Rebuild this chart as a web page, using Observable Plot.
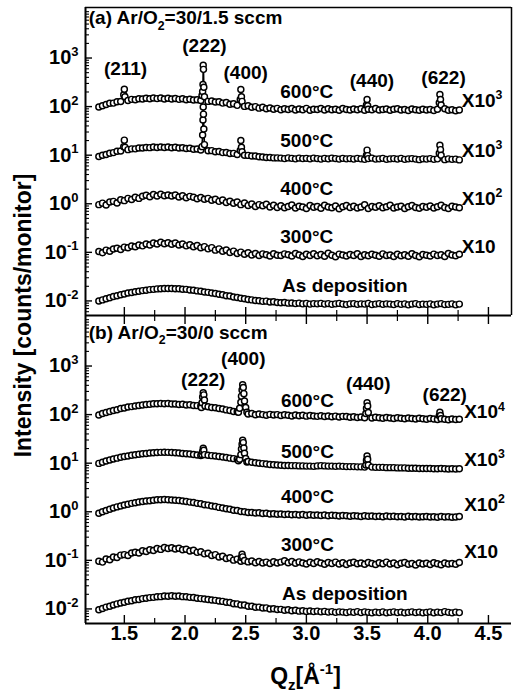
<!DOCTYPE html>
<html><head><meta charset="utf-8">
<script src="https://cdn.jsdelivr.net/npm/d3@7"></script>
<script src="https://cdn.jsdelivr.net/npm/@observablehq/plot@0.6"></script>
<style>body{margin:0;background:#fff}#chart{width:513px;height:699px}</style>
</head><body><div id="chart"></div>
<script>
// Q grid shared by all scans (Å^-1)
const qGrid = [1.29,1.32,1.35,1.38,1.41,1.44,1.47,1.50,1.53,1.56,1.59,1.62,1.65,1.68,1.71,1.74,1.77,1.80,1.83,1.86,
1.89,1.92,1.95,1.98,2.01,2.04,2.07,2.10,2.13,2.16,2.19,2.22,2.25,2.28,2.31,2.34,2.37,2.40,2.43,2.46,
2.49,2.52,2.55,2.58,2.61,2.64,2.67,2.70,2.73,2.76,2.79,2.82,2.85,2.88,2.91,2.94,2.97,3.00,3.03,3.06,
3.09,3.12,3.15,3.18,3.21,3.24,3.27,3.30,3.33,3.36,3.39,3.42,3.45,3.48,3.51,3.54,3.57,3.60,3.63,3.66,
3.69,3.72,3.75,3.78,3.81,3.84,3.87,3.90,3.93,3.96,3.99,4.02,4.05,4.08,4.11,4.14,4.17,4.20,4.23,4.26];

// Relative intensities (100 = the decade line of each offset curve)
const a600 = [98,104,110,117,118,126,127,134,134,141,139,145,143,149,145,150,146,150,144,148,
144,147,141,145,139,142,137,139,134,136,128,131,124,126,118,121,112,115,106,108,
101,104,97,100,93,97,90,94,88,92,86,90,87,91,85,89,86,92,84,88,
87,91,85,90,86,88,84,91,87,85,89,86,90,84,88,86,91,85,87,89,
84,88,90,85,87,83,89,86,84,88,85,87,83,88,86,90,84,86,82,85];
const a500 = [94,100,103,110,113,120,122,128,130,135,135,140,140,144,143,147,144,148,144,147,
142,145,140,142,137,139,133,134,128,129,123,124,118,119,113,114,108,109,103,105,
100,99,96,96,93,92,90,90,88,88,87,85,88,86,84,87,85,86,84,87,
85,83,86,84,87,85,83,86,84,85,83,86,84,82,85,87,83,84,86,82,
84,85,83,86,82,84,85,83,81,84,83,85,82,84,83,81,84,82,83,80];
const a400 = [96,103,94,109,112,104,121,116,129,122,136,129,143,150,139,155,144,157,146,152,
145,151,138,146,133,142,136,127,135,124,129,118,124,112,119,106,113,102,109,96,
104,92,99,88,96,91,98,86,93,84,91,83,88,94,82,89,86,80,92,85,
88,81,93,86,83,90,79,87,92,84,89,82,86,95,80,88,85,91,83,87,
93,82,86,89,80,87,92,84,81,88,85,90,82,87,93,84,80,89,86,83];
const a300 = [104,98,111,105,117,121,114,128,124,135,130,142,136,148,142,156,149,161,151,158,
147,155,141,149,136,143,130,138,124,131,118,125,111,118,105,112,99,106,95,101,
91,98,88,95,86,93,89,84,94,87,86,93,89,84,95,88,82,91,86,94,
85,90,83,96,87,81,92,88,84,90,86,94,82,89,85,91,87,83,93,86,
88,82,91,85,89,83,94,86,81,90,87,84,92,86,89,82,95,88,85,91];
const a0 = [100,105,111,116,123,128,134,139,145,149,154,158,163,166,171,173,177,178,181,180,
181,178,178,174,173,168,166,161,158,152,150,145,142,137,134,128,126,120,118,113,
111,107,105,102,101,98,99,95,96,93,92,93,90,91,88,90,87,89,86,88,
87,89,86,88,85,87,89,86,84,87,88,85,87,86,89,84,86,88,85,87,
86,84,88,85,87,83,86,88,84,86,85,87,83,86,88,84,85,87,83,86];
const b600 = [98,105,110,116,122,126,133,137,143,146,151,154,158,161,163,167,168,170,167,169,
165,166,162,163,158,159,154,153,150,147,145,140,138,133,130,125,122,116,114,111,
107,103,105,99,103,100,97,101,98,100,96,99,97,94,98,95,97,93,96,94,
92,95,91,94,90,93,89,92,91,88,90,87,89,86,90,85,88,86,84,87,
85,83,86,84,82,85,83,81,84,82,80,83,81,79,82,80,78,81,79,80];
const b500 = [99,105,111,116,122,127,132,137,141,145,149,153,156,159,162,164,166,167,168,167,
166,164,162,159,157,154,151,148,144,141,146,143,140,137,134,131,127,124,120,116,
112,108,105,102,100,98,96,94,93,92,91,90,90,89,89,88,88,87,87,86,
88,89,88,87,87,86,87,86,85,85,85,84,84,83,84,83,82,82,82,81,
81,81,80,80,80,79,79,79,78,78,78,78,77,77,78,77,76,77,76,77];
const b400 = [93,100,106,113,119,126,131,138,143,149,153,159,162,167,169,173,176,177,178,176,
175,172,170,166,163,158,155,149,146,140,137,131,128,123,120,115,113,107,106,101,
100,97,97,94,95,92,93,90,91,89,90,88,89,87,88,86,88,85,87,85,
86,84,86,83,85,84,82,84,83,81,83,82,80,83,81,82,80,81,79,82,
80,81,79,80,78,81,79,80,78,79,80,78,79,77,80,78,79,77,78,80];
const b300 = [96,92,107,103,117,114,128,131,126,142,147,141,157,152,166,160,175,168,184,175,
182,171,178,165,170,156,161,146,150,136,140,126,131,117,122,109,113,101,106,96,
99,93,97,89,95,88,92,86,94,88,92,98,89,95,87,93,88,84,91,86,
94,88,83,90,86,92,84,89,82,88,91,85,88,83,90,86,82,89,85,92,
84,88,81,87,90,83,86,80,88,84,87,82,89,85,81,88,84,86,83,90];
const b0 = [96,102,109,114,121,127,133,137,144,148,154,157,163,166,171,173,178,179,184,183,
186,182,184,179,178,173,172,166,163,160,157,152,150,145,143,137,135,128,127,121,
120,114,113,108,109,104,105,100,101,97,98,94,96,92,94,90,92,89,91,88,
90,87,89,86,88,85,87,86,84,87,85,88,84,87,85,83,86,84,87,83,
85,87,84,86,83,85,87,84,86,83,85,87,83,86,84,88,85,83,86,84];

// Bragg peaks: [Q, relative intensity]
const peaksA600 = [
  [[1.495,175],[1.500,228],[1.505,160]],
  [[2.140,170],[2.145,204],[2.148,285],[2.150,707],[2.152,584],[2.155,250],[2.160,160]],
  [[2.455,140],[2.460,225],[2.465,160],[2.470,128]],
  [[3.495,108],[3.500,140],[3.505,104]],
  [[4.095,120],[4.100,177],[4.105,140],[4.110,108]]
];
const peaksA500 = [
  [[1.495,150],[1.500,204],[1.505,145]],
  [[2.140,150],[2.145,260],[2.148,530],[2.150,980],[2.152,700],[2.155,345],[2.160,165]],
  [[2.455,125],[2.460,200],[2.465,145],[2.470,118]],
  [[3.495,100],[3.500,127],[3.505,98]],
  [[4.095,110],[4.100,160],[4.105,130],[4.110,100]]
];
const peaksB600 = [
  [[2.135,140],[2.140,175],[2.145,230],[2.150,283],[2.155,255],[2.160,200],[2.165,150]],
  [[2.440,112],[2.450,135],[2.460,180],[2.465,240],[2.470,320],[2.475,412],[2.480,360],[2.485,270],[2.490,190],[2.500,140],[2.510,112]],
  [[3.490,105],[3.495,135],[3.500,176],[3.505,150],[3.510,110]],
  [[4.095,95],[4.100,112],[4.105,96]]
];
const peaksB500 = [
  [[2.140,150],[2.145,175],[2.150,203],[2.155,185],[2.160,150]],
  [[2.440,112],[2.450,120],[2.460,150],[2.465,195],[2.470,245],[2.475,296],[2.480,265],[2.485,205],[2.490,160],[2.500,125],[2.510,106]],
  [[3.490,92],[3.495,115],[3.500,140],[3.505,120],[3.510,92]]
];
const peaksB300 = [[[2.465,115],[2.470,133],[2.475,118]]];

const seriesPanel = ["a","a","a","a","a","b","b","b","b","b"];
const seriesName = ["600°C","500°C","400°C","300°C","As deposition","600°C","500°C","400°C","300°C","As deposition"];
const seriesFactor = [1,0.1,0.01,0.001,0.0001,1,0.1,0.01,0.001,0.0001];
const seriesRel = [a600,a500,a400,a300,a0,b600,b500,b400,b300,b0];
const seriesPeaks = [peaksA600,peaksA500,[],[],[],peaksB600,peaksB500,[],peaksB300,[]];

// Annotations
const labelText = ["(a) Ar/O_{2}=30/1.5 sccm","(211)","(222)","(400)","(440)","(622)",
  "600°C","X10^{3}","500°C","X10^{3}","400°C","X10^{2}","300°C","X10","As deposition",
  "(b) Ar/O_{2}=30/0 sccm","(222)","(400)","(440)","(622)",
  "600°C","X10^{4}","500°C","X10^{3}","400°C","X10^{2}","300°C","X10","As deposition"];
const labelPanel = ["a","a","a","a","a","a","a","a","a","a","a","a","a","a","a",
  "b","b","b","b","b","b","b","b","b","b","b","b","b","b"];
const labelQ = [1.207,1.51,2.16,2.50,3.54,4.13,2.785,4.28,2.785,4.28,2.785,4.28,2.785,4.28,2.80,
  1.207,2.15,2.48,3.51,4.14,2.79,4.30,2.79,4.30,2.79,4.30,2.79,4.30,2.80];
const labelV = [6600,594,1770,490,337,387,200,130,19.6,12.2,2.01,1.26,0.207,0.129,0.0204,
  4875,528,1426,437,260,195,111,16.7,11.5,2.0,1.36,0.206,0.148,0.0203];
const labelAnchor = ["start","middle","middle","middle","middle","middle","start","start","start","start","start","start","start","start","start",
  "start","middle","middle","middle","middle","start","start","start","start","start","start","start","start","start"];

const xMajor = [1.5,2.0,2.5,3.0,3.5,4.0,4.5];
const xMinor = [1.75,2.25,2.75,3.25,3.75,4.25];
const yMajor = [0.01,0.1,1,10,100,1000];
const xDomain = [1.18, 4.69];
const yDomain = [Math.pow(10,-2.3), Math.pow(10,4.04)];
const yMinor = [];
for (let k = -3; k <= 3; k++) for (let m = 2; m <= 9; m++) { const v = m * Math.pow(10,k); if (v > yDomain[0] && v < yDomain[1]) yMinor.push(v); }

const rows = [];
seriesRel.forEach((rel, s) => {
  const groups = seriesPeaks[s];
  const inPeak = q => groups.some(g => q >= g[0][0] - 1e-9 && q <= g[g.length-1][0] + 1e-9);
  const pts = [];
  qGrid.forEach((q, i) => { if (!inPeak(q)) pts.push([q, rel[i]]); });
  groups.forEach(g => g.forEach(p => pts.push(p)));
  pts.sort((a, b) => a[0] - b[0]);
  pts.forEach(([q, r]) => rows.push({key: s, name: seriesName[s], panel: seriesPanel[s], q, v: r * seriesFactor[s]}));
});
const idx = labelText.map((_, i) => i);
const font = "'Liberation Sans', Arial, sans-serif";

const chart = Plot.plot({
  width: 513, height: 699,
  marginLeft: 85, marginRight: 2, marginTop: 6, marginBottom: 76,
  x: {domain: xDomain},
  y: {type: "log", domain: yDomain},
  fy: {domain: ["a","b"], padding: 0, axis: null},
  style: {fontFamily: font, fontWeight: "bold", color: "#000", background: "#fff"},
  marks: [
    Plot.line(rows, {x: "q", y: "v", z: "key", fy: "panel", stroke: "#000", strokeWidth: 1.6}),
    Plot.dot(rows, {x: "q", y: "v", fy: "panel", r: 3, fill: "white", stroke: "#000", strokeWidth: 1.45}),
    Plot.ruleX([xDomain[0]], {stroke: "#000", strokeWidth: 2}),
    Plot.ruleY([yDomain[0]], {stroke: "#000", strokeWidth: 2}),
    Plot.ruleY(["a"], {fy: d => d, y: () => yDomain[1], stroke: "#000", strokeWidth: 1.5}),
    Plot.ruleX(["a"], {fy: d => d, x: () => xDomain[1], stroke: "#000", strokeWidth: 1.5}),
    Plot.axisX({ticks: xMajor, tickSize: -8, fill: "none", label: null, facetAnchor: null, strokeWidth: 1.4}),
    Plot.axisX({ticks: xMinor, tickSize: -5, fill: "none", label: null, facetAnchor: null, strokeWidth: 1.2}),
    Plot.axisX({anchor: "top", ticks: xMajor, tickSize: -8, fill: "none", label: null, facetAnchor: "bottom", strokeWidth: 1.4}),
    Plot.axisX({anchor: "top", ticks: xMinor, tickSize: -5, fill: "none", label: null, facetAnchor: "bottom", strokeWidth: 1.2}),
    Plot.axisX({ticks: xMajor, tickSize: 0, tickPadding: 2, tickFormat: d3.format(".1f"), fontSize: 20, fontWeight: "bold", label: null}),
    Plot.axisY({ticks: yMajor, tickSize: -7, fill: "none", label: null, strokeWidth: 1.4}),
    Plot.axisY({ticks: yMinor, tickSize: -4, fill: "none", label: null, strokeWidth: 1.1}),
    Plot.axisY({ticks: yMajor, tickSize: 0, tickPadding: 7, tickFormat: d => `10^{${Math.round(Math.log10(d))}}`, fontSize: 20, fontWeight: "bold", label: null}),
    Plot.text(idx, {filter: i => labelAnchor[i] === "start", x: i => labelQ[i], y: i => labelV[i], fy: i => labelPanel[i], text: i => labelText[i], textAnchor: "start", fontSize: 19, fontWeight: "bold", fill: "#000"}),
    Plot.text(idx, {filter: i => labelAnchor[i] === "middle", x: i => labelQ[i], y: i => labelV[i], fy: i => labelPanel[i], text: i => labelText[i], textAnchor: "middle", fontSize: 19, fontWeight: "bold", fill: "#000"}),
    Plot.text(["b"], {fy: d => d, text: () => "Intensity [counts/monitor]", frameAnchor: "top-left", rotate: -90, dx: -62, textAnchor: "middle", lineAnchor: "middle", fontSize: 23, fontWeight: "bold", fill: "#000"}),
    Plot.text(["b"], {fy: d => d, text: () => "Q_{z}[Å^{-1}]", frameAnchor: "bottom", dy: 53, dx: 7, lineAnchor: "middle", fontSize: 23, fontWeight: "bold", fill: "#000"})
  ]
});
document.getElementById("chart").appendChild(chart);

// sub/superscript markup -> tspans
function richify(svg) {
  svg.querySelectorAll("text").forEach(t => {
    const s = t.textContent;
    if (!/[\^_]\{/.test(s)) return;
    const fs = parseFloat(getComputedStyle(t).fontSize) || 16;
    while (t.firstChild) t.removeChild(t.firstChild);
    const re = /([\^_])\{([^}]*)\}/g;
    let last = 0, m, shift = 0;
    const add = (str, type) => {
      const ts = document.createElementNS("http://www.w3.org/2000/svg", "tspan");
      const target = type === "^" ? -0.42 * fs : type === "_" ? 0.28 * fs : 0;
      const d = target - shift;
      if (d) ts.setAttribute("dy", d.toFixed(2));
      shift = target;
      if (type) ts.setAttribute("font-size", (0.65 * fs).toFixed(1));
      ts.textContent = str;
      t.appendChild(ts);
    };
    while ((m = re.exec(s))) {
      if (m.index > last) add(s.slice(last, m.index), null);
      add(m[2], m[1]);
      last = re.lastIndex;
    }
    if (last < s.length) add(s.slice(last), null);
  });
}
richify(chart);
</script>
</body></html>
